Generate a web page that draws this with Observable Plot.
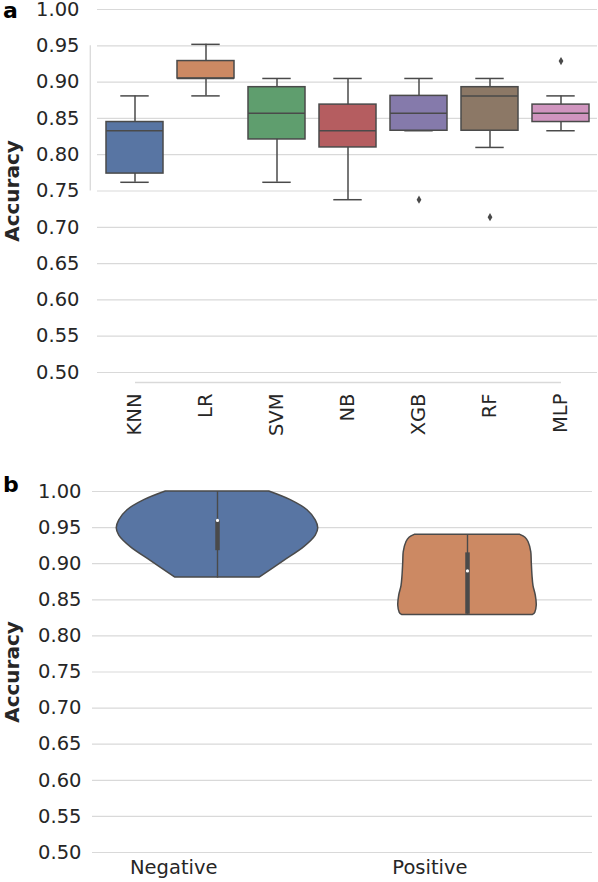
<!DOCTYPE html>
<html><head><meta charset="utf-8">
<script src="https://cdn.jsdelivr.net/npm/d3@7"></script>
<script src="https://cdn.jsdelivr.net/npm/@observablehq/plot@0.6"></script>
<style>
body{margin:0;background:#fff;font-family:"DejaVu Sans",sans-serif;}
#wrap{position:relative;width:598px;height:882px;overflow:hidden;}
.panel{position:absolute;left:0;}
.tag{position:absolute;left:3px;font-weight:bold;font-size:22px;color:#000;font-family:"DejaVu Sans",sans-serif;line-height:0.8;}
</style></head><body>
<div id="wrap">
  <div id="pa" class="panel" style="top:0"></div>
  <div id="pb" class="panel" style="top:440px"></div>
  <div class="tag" style="top:2px">a</div>
  <div class="tag" style="top:476px">b</div>
</div>
<script>
// ---- Panel a: box plots ----
const models = ["KNN", "LR", "SVM", "NB", "XGB", "RF", "MLP"];
const boxColors = ["#5875A3", "#CC8963", "#5F9E6E", "#B55D60", "#857AAB", "#8C7866", "#D095BF"];
const whiskerLow  = [0.762, 0.881, 0.762, 0.738, 0.833, 0.810, 0.833];
const boxQ1       = [0.774, 0.905, 0.821, 0.810, 0.833, 0.833, 0.845];
const boxMedian   = [0.833, 0.905, 0.857, 0.833, 0.857, 0.881, 0.857];
const boxQ3       = [0.845, 0.929, 0.893, 0.869, 0.881, 0.893, 0.869];
const whiskerHigh = [0.881, 0.952, 0.905, 0.905, 0.905, 0.905, 0.881];
const outlierModel = ["XGB", "RF", "MLP"];
const outlierValue = [0.738, 0.714, 0.929];
const yTicks = [0.50, 0.55, 0.60, 0.65, 0.70, 0.75, 0.80, 0.85, 0.90, 0.95, 1.00];
const yLabel = "Accuracy";

// ---- Panel b: violins ----
const groups = ["Negative", "Positive"];
const violinColors = ["#5875A3", "#CC8963"];
const negY  = [0.881, 0.904, 0.923, 0.939, 0.949, 0.960, 0.974, 0.988, 1.000];
const negHW = [0.170, 0.267, 0.347, 0.393, 0.403, 0.393, 0.360, 0.293, 0.207];
const posY  = [0.829, 0.832, 0.842, 0.856, 0.869, 0.883, 0.902, 0.916, 0.930, 0.936, 0.940];
const posHW = [0.262, 0.271, 0.277, 0.273, 0.264, 0.260, 0.257, 0.255, 0.244, 0.232, 0.211];
const violinLow  = [0.88, 0.83];
const violinQ1   = [0.918, 0.83];
const violinMed  = [0.96, 0.89];
const violinQ3   = [0.96, 0.915];
const violinHigh = [1.00, 0.94];

const gray = "#4a4a4a";
const grid = "#d9d9d9";
const textColor = "#262626";
const font = "DejaVu Sans";
const tickFont = 19.5;

const idx = models.map((_, i) => i);
const oIdx = outlierModel.map((_, i) => i);
const widthA = 598, mlA = 97, mrA = 1;
const step = (widthA - mlA - mrA) / models.length;
const bandW = step * 0.8;

const pa = Plot.plot({
  width: widthA, height: 440,
  marginTop: 9, marginBottom: 68, marginLeft: mlA, marginRight: mrA,
  style: {fontFamily: font, color: textColor, background: "white", overflow: "visible"},
  x: {type: "band", domain: models, paddingInner: 0.2, paddingOuter: 0.1, label: null},
  y: {domain: [0.5, 1.0], label: null},
  color: {domain: models, range: boxColors},
  marks: [
    Plot.gridY(yTicks, {stroke: grid, strokeOpacity: 1, strokeWidth: 1.2}),
    Plot.link([0], {x1: () => models[0], x2: () => models[models.length - 1],
      y1: () => yTicks[0], y2: () => yTicks[0], dy: 10, stroke: grid, strokeOpacity: 1, strokeWidth: 1.3}),
    Plot.ruleX([0], {x: () => models[0], y1: () => yTicks[5], y2: () => yTicks[9],
      dx: -(step / 2 + 9), stroke: grid, strokeOpacity: 1, strokeWidth: 1.3}),
    Plot.ruleX(idx, {x: i => models[i], y1: i => whiskerLow[i], y2: i => whiskerHigh[i], stroke: gray, strokeWidth: 1.5}),
    Plot.tickY(idx, {x: i => models[i], y: i => whiskerHigh[i], stroke: gray, strokeWidth: 1.5, insetLeft: bandW / 4, insetRight: bandW / 4}),
    Plot.tickY(idx, {x: i => models[i], y: i => whiskerLow[i], stroke: gray, strokeWidth: 1.5, insetLeft: bandW / 4, insetRight: bandW / 4}),
    Plot.barY(idx, {x: i => models[i], y1: i => boxQ1[i], y2: i => boxQ3[i], fill: i => models[i], stroke: gray, strokeWidth: 1.5}),
    Plot.tickY(idx, {x: i => models[i], y: i => boxMedian[i], stroke: gray, strokeWidth: 1.5}),
    Plot.dot(oIdx, {x: i => outlierModel[i], y: i => outlierValue[i], symbol: "diamond", r: 2.5, fill: gray, stroke: "none"}),
    Plot.axisY(yTicks, {tickFormat: d3.format(".2f"), tickSize: 0, tickPadding: 18, fontSize: tickFont, label: null}),
    Plot.axisX({tickRotate: -90, tickSize: 0, tickPadding: 21, fontSize: tickFont, label: null}),
    Plot.text([yLabel], {text: d => d, frameAnchor: "left", textAnchor: "middle", dx: -85, rotate: -90, fontSize: 20, fontWeight: "bold", fill: textColor})
  ]
});
document.getElementById("pa").appendChild(pa);

const negIdx = negY.map((_, i) => i);
const posIdx = posY.map((_, i) => i);
const gIdx = groups.map((_, i) => i);

const pb = Plot.plot({
  width: 598, height: 442,
  marginTop: 51, marginBottom: 30, marginLeft: 92, marginRight: 6,
  style: {fontFamily: font, color: textColor, background: "white", overflow: "visible"},
  x: {domain: [-0.5, groups.length - 0.5], label: null},
  y: {domain: [0.5, 1.0], label: null},
  marks: [
    Plot.gridY(yTicks, {stroke: grid, strokeOpacity: 1, strokeWidth: 1.2}),
    Plot.areaX(negIdx, {y: i => negY[i], x1: i => 0 - negHW[i], x2: i => 0 + negHW[i],
      fill: violinColors[0], stroke: gray, strokeWidth: 1.5, curve: "catmull-rom"}),
    Plot.areaX(posIdx, {y: i => posY[i], x1: i => 1 - posHW[i], x2: i => 1 + posHW[i],
      fill: violinColors[1], stroke: gray, strokeWidth: 1.5, curve: "catmull-rom"}),
    Plot.ruleX(gIdx, {x: i => i, y1: i => violinLow[i], y2: i => violinHigh[i], stroke: gray, strokeWidth: 1.4}),
    Plot.ruleX(gIdx, {x: i => i, y1: i => violinQ1[i], y2: i => violinQ3[i], stroke: gray, strokeWidth: 4.5}),
    Plot.dot(gIdx, {x: i => i, y: i => violinMed[i], r: 1.6, fill: "white", stroke: "none"}),
    Plot.axisY(yTicks, {tickFormat: d3.format(".2f"), tickSize: 0, tickPadding: 11, fontSize: tickFont, label: null}),
    Plot.axisX(gIdx, {tickFormat: i => groups[i], textAnchor: "end", tickSize: 0, tickPadding: 8, fontSize: tickFont, label: null}),
    Plot.text([yLabel], {text: d => d, frameAnchor: "left", textAnchor: "middle", dx: -80, rotate: -90, fontSize: 20, fontWeight: "bold", fill: textColor})
  ]
});
document.getElementById("pb").appendChild(pb);
</script>
</body></html>
